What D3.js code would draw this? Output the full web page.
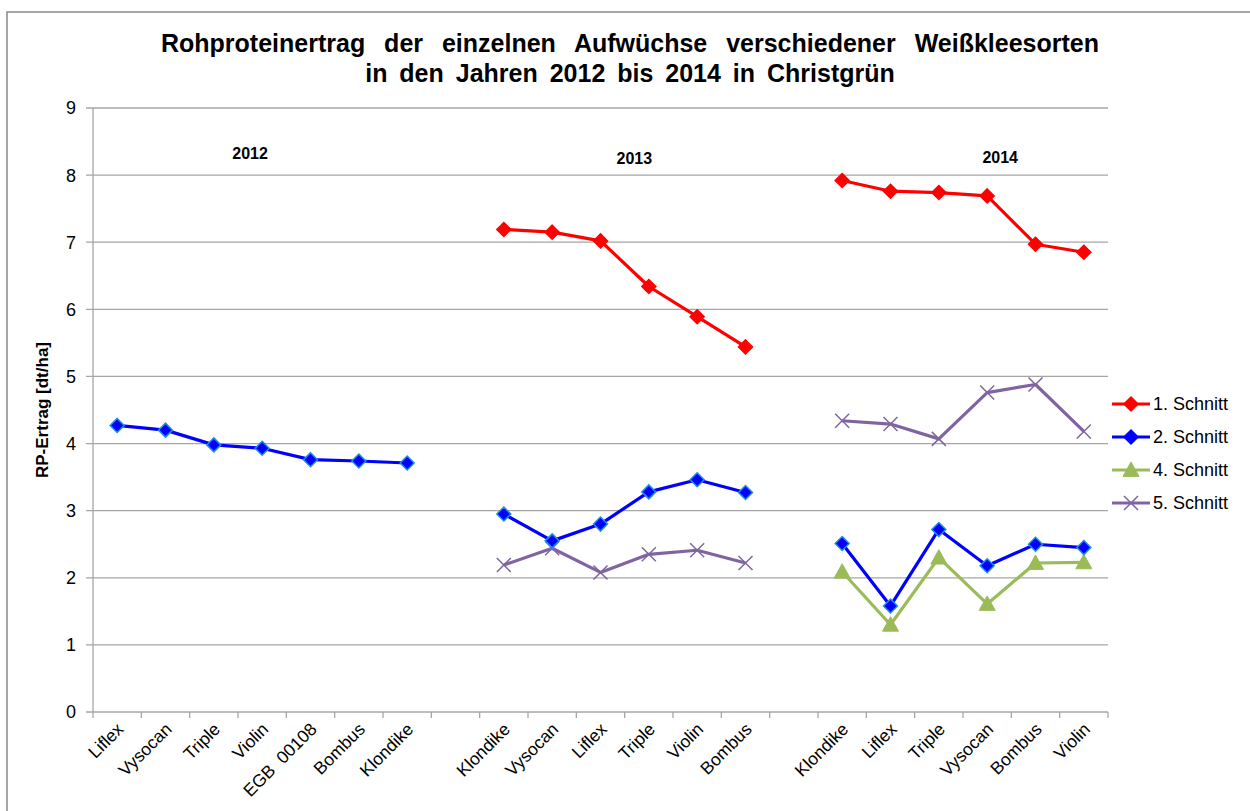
<!DOCTYPE html>
<html>
<head>
<meta charset="utf-8">
<script src="https://cdn.jsdelivr.net/npm/d3@7"></script>
<style>
  body { margin: 0; background: #fff; }
  svg { font-family: "Liberation Sans", Arial, sans-serif; }
</style>
</head>
<body>
<svg id="chart" width="1250" height="811"></svg>
<script>
// categories (empty strings = gaps between the years)
const categories = ["Liflex", "Vysocan", "Triple", "Violin", "EGB  00108", "Bombus", "Klondike", "",
  "Klondike", "Vysocan", "Liflex", "Triple", "Violin", "Bombus", "",
  "Klondike", "Liflex", "Triple", "Vysocan", "Bombus", "Violin"];

const schnitt1 = [null, null, null, null, null, null, null, null,
  7.19, 7.15, 7.02, 6.34, 5.89, 5.44, null,
  7.92, 7.76, 7.74, 7.69, 6.97, 6.85];
const schnitt2 = [4.27, 4.20, 3.98, 3.93, 3.76, 3.74, 3.71, null,
  2.95, 2.55, 2.80, 3.28, 3.46, 3.27, null,
  2.51, 1.58, 2.72, 2.18, 2.50, 2.45];
const schnitt4 = [null, null, null, null, null, null, null, null,
  null, null, null, null, null, null, null,
  2.09, 1.30, 2.30, 1.61, 2.22, 2.23];
const schnitt5 = [null, null, null, null, null, null, null, null,
  2.19, 2.44, 2.08, 2.35, 2.41, 2.22, null,
  4.34, 4.29, 4.07, 4.76, 4.88, 4.18];

const yTicks = [0, 1, 2, 3, 4, 5, 6, 7, 8, 9];
const yearLabels = ["2012", "2013", "2014"];
const yearPos = [[3, 0.25, 8.24], [11, 0.2, 8.17], [18, 0.77, 8.18]]; // [category index, fraction, y value] of the text boxes

const series = [
  { name: "1. Schnitt", values: schnitt1, color: "#ff0000", marker: "diamond", fill: "#ff0000", stroke: "#ff0000" },
  { name: "2. Schnitt", values: schnitt2, color: "#0000ff", marker: "diamond", fill: "#0000ff", stroke: "#1f8fe0" },
  { name: "4. Schnitt", values: schnitt4, color: "#9bbb59", marker: "triangle", fill: "#9bbb59", stroke: "#9bbb59" },
  { name: "5. Schnitt", values: schnitt5, color: "#8064a2", marker: "cross", fill: "none", stroke: "#8064a2" }
];

const svg = d3.select("#chart");
const margin = { left: 93, right: 142, top: 108, bottom: 99 };
const W = 1250, H = 811;

// outer frame
svg.append("rect")
  .attr("x", 7).attr("y", 12)
  .attr("width", W + 10).attr("height", H + 10)
  .attr("fill", "#fff")
  .attr("stroke", "#898989").attr("stroke-width", 1.5);

const x = d3.scaleBand()
  .domain(d3.range(categories.length))
  .range([margin.left, W - margin.right])
  .padding(0);

const y = d3.scaleLinear()
  .domain([0, 9])
  .range([H - margin.bottom, margin.top]);

// gridlines
svg.append("g")
  .selectAll("line")
  .data(yTicks)
  .enter()
  .append("line")
  .attr("x1", margin.left - 7)
  .attr("x2", W - margin.right)
  .attr("y1", d => y(d)).attr("y2", d => y(d))
  .attr("stroke", "#a6a6a6")
  .attr("stroke-width", 1.3);

// y axis
svg.append("line")
  .attr("x1", margin.left).attr("x2", margin.left)
  .attr("y1", y(9)).attr("y2", y(0))
  .attr("stroke", "#a6a6a6").attr("stroke-width", 1.3);

svg.append("g")
  .selectAll("text")
  .data(yTicks)
  .enter()
  .append("text")
  .attr("x", margin.left - 17)
  .attr("y", d => y(d))
  .attr("dy", "0.36em")
  .attr("text-anchor", "end")
  .attr("font-size", 18)
  .attr("fill", "#000")
  .text(d => d);

// x axis ticks at category boundaries
const boundaries = d3.range(categories.length + 1);
svg.append("g")
  .selectAll("line")
  .data(boundaries)
  .enter()
  .append("line")
  .attr("x1", d => margin.left + d * x.bandwidth())
  .attr("x2", d => margin.left + d * x.bandwidth())
  .attr("y1", y(0)).attr("y2", y(0) + 6)
  .attr("stroke", "#a6a6a6").attr("stroke-width", 1.3);

// x labels, rotated
svg.append("g")
  .selectAll("text")
  .data(categories)
  .enter()
  .append("text")
  .attr("transform", (d, i) => `translate(${x(i) + x.bandwidth() / 2 + 3},${y(0) + 14}) rotate(-45)`)
  .attr("text-anchor", "end")
  .attr("font-size", 17.5)
  .attr("fill", "#000")
  .attr("dy", "0.35em")
  .style("white-space", "pre")
  .text(d => d);

// y axis title
svg.append("text")
  .attr("transform", `translate(48,${(y(0) + y(9)) / 2}) rotate(-90)`)
  .attr("text-anchor", "middle")
  .attr("font-size", 17)
  .attr("font-weight", "bold")
  .text("RP-Ertrag [dt/ha]");

// title
const title = svg.append("text")
  .attr("text-anchor", "middle")
  .attr("font-size", 25)
  .attr("font-weight", "bold");
title.append("tspan").attr("x", 630).attr("y", 52).attr("word-spacing", 12)
  .text("Rohproteinertrag der einzelnen Aufwüchse verschiedener Weißkleesorten");
title.append("tspan").attr("x", 630).attr("y", 82).attr("word-spacing", 5)
  .text("in den Jahren 2012 bis 2014 in Christgrün");

// year text boxes
svg.append("g")
  .selectAll("text")
  .data(yearLabels)
  .enter()
  .append("text")
  .attr("x", (d, i) => x(yearPos[i][0]) + yearPos[i][1] * x.bandwidth())
  .attr("y", (d, i) => y(yearPos[i][2]))
  .attr("text-anchor", "middle")
  .attr("font-size", 16)
  .attr("font-weight", "bold")
  .text(d => d);

// lines
const line = d3.line()
  .defined(d => d != null)
  .x((d, i) => x(i) + x.bandwidth() / 2)
  .y(d => y(d));

function drawMarker(g, type, fill, stroke, cx, cy) {
  if (type === "diamond") {
    const s = 7;
    g.append("path")
      .attr("d", `M${cx},${cy - s}L${cx + s},${cy}L${cx},${cy + s}L${cx - s},${cy}Z`)
      .attr("fill", fill).attr("stroke", stroke).attr("stroke-width", 1.5);
  } else if (type === "triangle") {
    const s = 8;
    g.append("path")
      .attr("d", `M${cx},${cy - s}L${cx + s},${cy + s * 0.8}L${cx - s},${cy + s * 0.8}Z`)
      .attr("fill", fill).attr("stroke", stroke).attr("stroke-width", 1);
  } else {
    const s = 7;
    g.append("path")
      .attr("d", `M${cx - s},${cy - s}L${cx + s},${cy + s}M${cx + s},${cy - s}L${cx - s},${cy + s}`)
      .attr("fill", "none").attr("stroke", stroke).attr("stroke-width", 1.5);
  }
}

// draw in reverse so 1. Schnitt is on top
series.slice().reverse().forEach(s => {
  const g = svg.append("g");
  g.append("path")
    .datum(s.values)
    .attr("d", line)
    .attr("fill", "none")
    .attr("stroke", s.color)
    .attr("stroke-width", 3.2)
    .attr("stroke-linejoin", "round");
  s.values.forEach((v, i) => {
    if (v == null) return;
    drawMarker(g, s.marker, s.fill, s.stroke, x(i) + x.bandwidth() / 2, y(v));
  });
});

// legend
const legend = svg.append("g").attr("transform", "translate(1112,404)");
series.forEach((s, i) => {
  const g = legend.append("g").attr("transform", `translate(0,${i * 33})`);
  g.append("line")
    .attr("x1", 0).attr("x2", 38)
    .attr("y1", 0).attr("y2", 0)
    .attr("stroke", s.color).attr("stroke-width", 3.2);
  drawMarker(g, s.marker, s.fill, s.stroke === "#1f8fe0" ? s.fill : s.stroke, 19, 0);
  g.append("text")
    .attr("x", 41).attr("y", 0)
    .attr("dy", "0.36em")
    .attr("font-size", 18)
    .text(s.name);
});
</script>
</body>
</html>
